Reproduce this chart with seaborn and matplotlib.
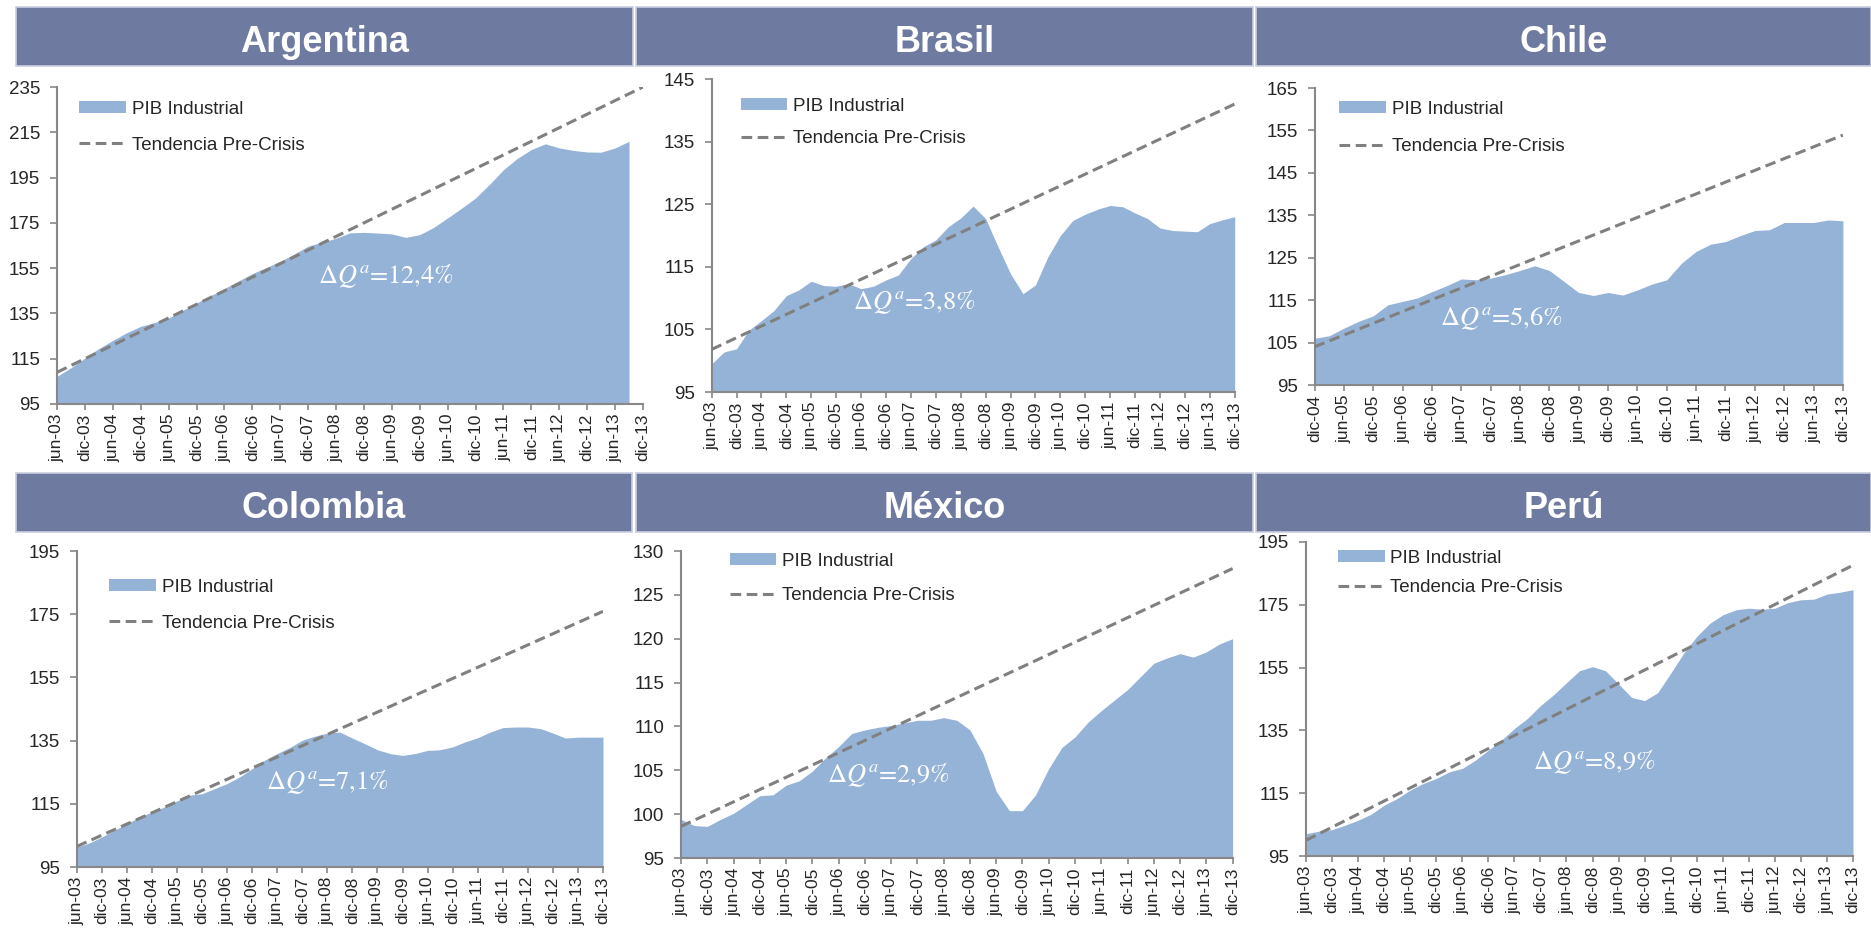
import numpy as np
import pandas as pd
import matplotlib
matplotlib.use("Agg")
import matplotlib.pyplot as plt
import seaborn as sns
from matplotlib.patches import Rectangle, Patch
from matplotlib.lines import Line2D

# semiannual tick labels (data is quarterly)
ticks_jun03 = ['jun-03', 'dic-03', 'jun-04', 'dic-04', 'jun-05', 'dic-05', 'jun-06', 'dic-06',
               'jun-07', 'dic-07', 'jun-08', 'dic-08', 'jun-09', 'dic-09', 'jun-10', 'dic-10',
               'jun-11', 'dic-11', 'jun-12', 'dic-12', 'jun-13', 'dic-13']
ticks_dic04 = ['dic-04', 'jun-05', 'dic-05', 'jun-06', 'dic-06', 'jun-07', 'dic-07', 'jun-08',
               'dic-08', 'jun-09', 'dic-09', 'jun-10', 'dic-10', 'jun-11', 'dic-11', 'jun-12',
               'dic-12', 'jun-13', 'dic-13']

# PIB industrial, quarterly index
arg_pib = [107.2, 111.0, 115.3, 119.5, 123.1, 126.5, 129.3, 131.0, 133.0, 136.3, 139.6, 142.8,
           146.0, 149.3, 152.6, 155.3, 158.0, 161.2, 164.7, 166.5, 168.2, 170.6, 170.8, 170.5,
           170.1, 168.6, 169.8, 173.0, 177.2, 181.5, 186.0, 192.0, 198.5, 203.5, 207.4, 209.9,
           208.1, 207.0, 206.3, 206.2, 208.1, 211.0]
bra_pib = [99.5, 101.4, 101.9, 104.9, 106.4, 108.0, 110.4, 111.3, 112.7, 112.0, 111.9, 112.3,
           111.5, 111.9, 112.9, 113.7, 116.3, 118.2, 119.3, 121.4, 122.8, 124.7, 122.7, 118.2,
           113.9, 110.7, 112.1, 116.6, 120.0, 122.4, 123.4, 124.2, 124.8, 124.6, 123.6, 122.7,
           121.2, 120.8, 120.7, 120.6, 121.9, 122.5, 123.0]
chi_pib = [106.0, 106.6, 108.4, 110.0, 111.3, 113.9, 114.7, 115.5, 117.0, 118.4, 120.0, 119.8,
           120.2, 121.0, 122.0, 123.1, 122.0, 119.4, 116.8, 116.1, 116.8, 116.2, 117.4, 118.8,
           119.8, 123.7, 126.5, 128.2, 128.8, 130.2, 131.4, 131.6, 133.3, 133.3, 133.3, 133.9,
           133.7]
col_pib = [101.3, 102.6, 104.5, 106.6, 108.7, 110.8, 112.4, 114.0, 115.9, 117.7, 118.2, 119.8,
           121.4, 123.5, 126.1, 128.8, 130.9, 132.8, 135.1, 136.4, 137.4, 137.7, 135.8, 134.0,
           132.1, 130.9, 130.3, 130.9, 131.9, 132.1, 133.0, 134.6, 135.9, 137.7, 139.1, 139.3,
           139.3, 138.8, 137.4, 135.8, 136.1, 136.1, 136.1]
mex_pib = [99.4, 98.7, 98.6, 99.4, 100.1, 101.1, 102.1, 102.2, 103.3, 103.8, 104.9, 106.4,
           107.7, 109.2, 109.6, 109.9, 110.1, 110.4, 110.7, 110.7, 111.0, 110.7, 109.6, 106.9,
           102.6, 100.4, 100.4, 102.2, 105.2, 107.6, 108.8, 110.5, 111.8, 113.0, 114.2, 115.7,
           117.2, 117.8, 118.3, 117.9, 118.5, 119.4, 120.0]
per_pib = [102.1, 102.9, 103.4, 104.8, 106.4, 108.3, 111.2, 113.3, 116.0, 118.1, 119.7, 121.8,
           122.9, 125.5, 128.7, 131.9, 135.6, 138.8, 142.9, 146.3, 150.2, 154.0, 155.3, 154.0,
           149.8, 145.5, 144.5, 147.0, 153.2, 159.6, 164.9, 169.1, 171.8, 173.4, 173.9, 173.6,
           173.9, 175.7, 176.6, 176.8, 178.4, 179.0, 179.8]

# pre-crisis trend: value at first and last tick of the axis
arg_trend = [109.0, 235.0]
bra_trend = [101.8, 141.0]
chi_trend = [104.0, 153.9]
col_trend = [101.5, 175.9]
mex_trend = [98.6, 128.0]
per_trend = [100.0, 187.6]

countries = ['Argentina', 'Brasil', 'Chile', 'Colombia', 'México', 'Perú']
growth_labels = ['12,4%', '3,8%', '5,6%', '7,1%', '2,9%', '8,9%']

W, H = 1871, 930
AREA = '#95B3D7'
TREND = '#808080'
BAR = '#6F7AA0'
DASH = (0, (3.5, 1.8))

sns.set_theme(style='ticks')
plt.rcParams['font.family'] = ['Liberation Sans', 'DejaVu Sans']
plt.rcParams['mathtext.fontset'] = 'stix'

# layout per panel: axes px (left, right, top, bottom), y range/step,
# legend (left, top, row spacing) px, growth label position in data coords
panels = [
    dict(pib=arg_pib, trend=arg_trend, ticks=ticks_jun03, ylim=(95, 235), step=20,
         box=(57, 643, 87, 404), leg=(79, 101, 1.0), lab=(23.6, 151.4)),
    dict(pib=bra_pib, trend=bra_trend, ticks=ticks_jun03, ylim=(95, 145), step=10,
         box=(711.6, 1234.7, 79, 392), leg=(740.5, 98, 0.8), lab=(16.3, 109.4)),
    dict(pib=chi_pib, trend=chi_trend, ticks=ticks_dic04, ylim=(95, 165), step=10,
         box=(1314.5, 1842.9, 88, 385), leg=(1339, 101, 1.07), lab=(12.7, 110.7)),
    dict(pib=col_pib, trend=col_trend, ticks=ticks_jun03, ylim=(95, 195), step=20,
         box=(76.7, 603, 551, 867), leg=(109, 579, 1.0), lab=(20.0, 121.9)),
    dict(pib=mex_pib, trend=mex_trend, ticks=ticks_jun03, ylim=(95, 130), step=5,
         box=(681, 1232.6, 551, 858), leg=(729.6, 553, 0.9), lab=(15.75, 104.5)),
    dict(pib=per_pib, trend=per_trend, ticks=ticks_jun03, ylim=(95, 195), step=20,
         box=(1306, 1853, 542, 856), leg=(1338, 550, 0.64), lab=(22.1, 125.0)),
]

bars = [(16, 633, 7), (636, 1253, 7), (1256, 1871, 7),
        (16, 632, 473), (636, 1253, 473), (1256, 1871, 473)]

fig = plt.figure(figsize=(W / 100, H / 100), dpi=100)
fig.patch.set_facecolor('white')

for name, (x0, x1, top) in zip(countries, bars):
    fig.patches.append(Rectangle((x0 / W, 1 - (top + 59) / H), (x1 - x0) / W, 59 / H,
                                 transform=fig.transFigure, facecolor=BAR,
                                 edgecolor='#C9CEDF', linewidth=1.2))
    fig.text((x0 + x1) / 2 / W, 1 - (top + 44.5) / H, name, color='white',
             fontsize=26, fontweight='bold', ha='center', va='baseline')

for p, gl in zip(panels, growth_labels):
    l, r, t, b = p['box']
    ax = fig.add_axes([l / W, 1 - b / H, (r - l) / W, (b - t) / H])
    n = len(p['pib'])
    xmax = 2 * (len(p['ticks']) - 1)
    df = pd.DataFrame({'q': np.arange(n), 'pib': p['pib']})
    ax.fill_between(df['q'], p['ylim'][0], df['pib'], color=AREA, linewidth=0, zorder=1)
    tr = pd.DataFrame({'q': [0, xmax], 'v': p['trend']})
    sns.lineplot(data=tr, x='q', y='v', ax=ax, color=TREND, linewidth=2.2, zorder=3)
    ax.lines[-1].set_linestyle(DASH)

    ax.set_xlim(0, xmax)
    ax.set_ylim(*p['ylim'])
    ax.set_yticks(np.arange(p['ylim'][0], p['ylim'][1] + 1, p['step']))
    ax.set_xticks(np.arange(0, xmax + 1, 2))
    ax.set_xticklabels(p['ticks'], rotation=90, fontsize=12.5)
    ax.tick_params(axis='y', labelsize=13.5, length=5, width=1.2, color='#888888', pad=7)
    ax.tick_params(axis='x', length=4, width=1.2, color='#888888', pad=3)
    ax.set_xlabel('')
    ax.set_ylabel('')
    ax.set_facecolor('none')
    for s in ['top', 'right']:
        ax.spines[s].set_visible(False)
    for s in ['left', 'bottom']:
        ax.spines[s].set_color('#888888')
        ax.spines[s].set_linewidth(1.5)

    handles = [Patch(facecolor=AREA, edgecolor='none'),
               Line2D([], [], color=TREND, linewidth=2.2, linestyle=DASH)]
    lx, ly, ls = p['leg']
    ax.legend(handles, ['PIB Industrial', 'Tendencia Pre-Crisis'], loc='upper left',
              bbox_to_anchor=(lx / W, 1 - ly / H), bbox_transform=fig.transFigure,
              frameon=False, fontsize=13.5, handlelength=2.5, handleheight=0.6,
              handletextpad=0.3, labelspacing=ls, borderpad=0, borderaxespad=0)

    ax.text(p['lab'][0], p['lab'][1], r'$\Delta Q^{a}$=' + gl, color='white',
            fontsize=19, family='STIXGeneral', ha='center', va='center', zorder=4)

fig.savefig('out.png', dpi=100, facecolor='white')
